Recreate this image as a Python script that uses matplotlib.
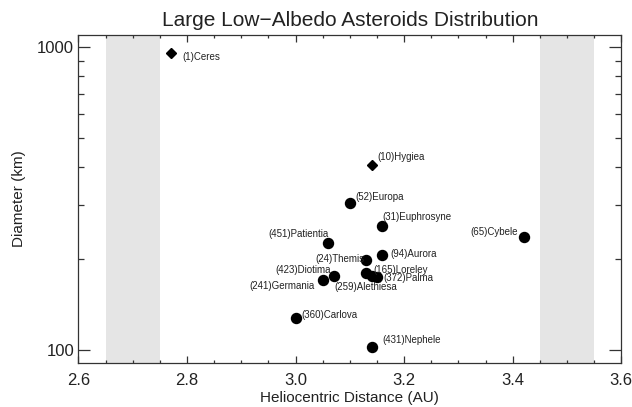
import numpy as np
import matplotlib.pyplot as plt
from matplotlib.ticker import FixedLocator, LogLocator, MultipleLocator, NullFormatter, FormatStrFormatter

plt.rcParams['font.family'] = ['Liberation Sans', 'DejaVu Sans']

# Asteroid data
names = ['(1)Ceres', '(10)Hygiea', '(52)Europa', '(31)Euphrosyne', '(451)Patientia',
         '(65)Cybele', '(24)Themis', '(94)Aurora', '(165)Loreley', '(372)Palma',
         '(259)Alethiesa', '(423)Diotima', '(241)Germania', '(360)Carlova', '(431)Nephele']
distance = [2.77, 3.14, 3.10, 3.16, 3.06, 3.42, 3.13, 3.16, 3.13, 3.15, 3.14, 3.07, 3.05, 3.00, 3.14]
diameter = [951, 407, 305, 256, 226, 236, 198, 206, 180, 174, 175, 176, 170, 128, 102]
is_diamond = [True, True] + [False] * 13

# Kirkwood-gap bands (AU)
bands = [(2.65, 2.75), (3.45, 3.55)]

# label offsets in pixels (dx, dy) and alignment
label_pos = {
    '(1)Ceres': (12, -4, 'left'),
    '(10)Hygiea': (6, 8, 'left'),
    '(52)Europa': (6, 6, 'left'),
    '(31)Euphrosyne': (0, 9, 'left'),
    '(451)Patientia': (1, 9, 'right'),
    '(65)Cybele': (-6, 5, 'right'),
    '(24)Themis': (-2, 1, 'right'),
    '(94)Aurora': (8, 1, 'left'),
    '(165)Loreley': (7, 3, 'left'),
    '(372)Palma': (6, -1, 'left'),
    '(259)Alethiesa': (-37, -11, 'left'),
    '(423)Diotima': (-3, 6, 'right'),
    '(241)Germania': (-8, -6, 'right'),
    '(360)Carlova': (6, 3, 'left'),
    '(431)Nephele': (11, 7, 'left'),
}

fig = plt.figure(figsize=(6.32, 4.07), dpi=100)
ax = fig.add_axes([0.124, 0.108, 0.859, 0.807])

for lo, hi in bands:
    ax.axvspan(lo, hi, color='#e5e5e5', lw=0, zorder=0)

for x, y, d, n in zip(distance, diameter, is_diamond, names):
    if d:
        ax.plot(x, y, marker='D', ms=5, color='black', ls='none', zorder=3)
    else:
        ax.plot(x, y, marker='o', ms=7.2, color='black', ls='none', zorder=3)
    dx, dy, ha = label_pos[n]
    ax.annotate(n, (x, y), xytext=(dx, dy), textcoords='offset pixels',
                ha=ha, va='center', fontsize=7, color='#222222', zorder=4)

ax.set_yscale('log')
ax.set_xlim(2.6, 3.6)
ax.set_ylim(90.6, 1097)

ax.xaxis.set_major_locator(MultipleLocator(0.2))
ax.xaxis.set_minor_locator(MultipleLocator(0.05))
ax.xaxis.set_major_formatter(FormatStrFormatter('%.1f'))
ax.yaxis.set_major_locator(FixedLocator([100, 1000]))
ax.yaxis.set_major_formatter(FormatStrFormatter('%d'))
ax.yaxis.set_minor_locator(LogLocator(base=10, subs=np.arange(2, 10)))
ax.yaxis.set_minor_formatter(NullFormatter())

ax.tick_params(axis='both', which='both', direction='in', top=True, right=True,
               color='#333333', width=0.9, labelcolor='#222222')
ax.tick_params(axis='x', which='major', length=5, labelsize=12, pad=7)
ax.tick_params(axis='x', which='minor', length=2.5)
ax.tick_params(axis='y', which='major', length=8.6, labelsize=12, pad=3)
ax.tick_params(axis='y', which='minor', length=4.3)

for s in ax.spines.values():
    s.set_color('#333333')
    s.set_linewidth(0.9)

ax.set_title('Large Low\u2212Albedo Asteroids Distribution', fontsize=15, pad=6, color='#222222')
ax.set_xlabel('Heliocentric Distance (AU)', fontsize=11, labelpad=2, color='#222222')
ax.set_ylabel('Diameter (km)', fontsize=11, labelpad=8, color='#222222')

fig.savefig('out.png', dpi=100)
